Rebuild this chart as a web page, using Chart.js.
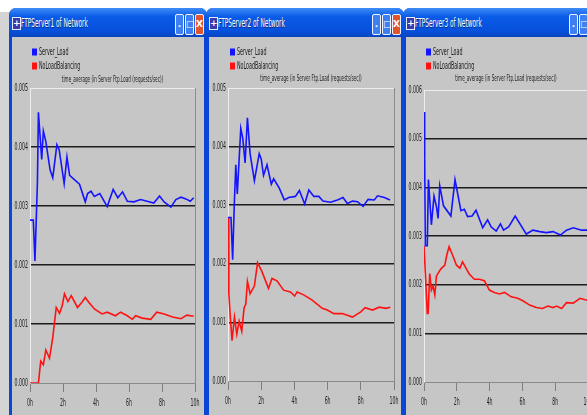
<!DOCTYPE html>
<html>
<head>
<meta charset="utf-8">
<script src="https://cdn.jsdelivr.net/npm/chart.js@4.4.1/dist/chart.umd.min.js"></script>
<style>
  body { margin: 0; width: 587px; height: 415px; overflow: hidden; position: relative; background: #d4d4d4; }
  .topstrip { position: absolute; left: 0; top: 0; width: 587px; height: 12px; background: #fff; }
  .win { position: absolute; top: 8px; height: 420px; background: #0b47d6; border-radius: 7px 7px 0 0; overflow: hidden; }
  .bar { position: absolute; left: 0; right: 0; top: 0; height: 29px; color: #fff;
         background: linear-gradient(#3f8cf6, #0a5be6 30%, #0650dc 80%, #0a44bf); }
  .ico { position: absolute; left: 3px; top: 9px; width: 7px; height: 11px; background: #3a3aa8; border: 1px solid #e8e8ff;
         font: bold 9px/11px "DejaVu Sans", sans-serif; text-align: center; color: #fff; }
  .ttl { position: absolute; left: 12px; top: 8px; font: 12px/14px "DejaVu Sans Condensed", "DejaVu Sans", sans-serif;
         transform: scaleX(0.54); transform-origin: 0 0;
         text-shadow: 1px 1px 0 #0a2a80; white-space: nowrap; }
  .btn { position: absolute; top: 6px; width: 7px; height: 19px; border: 1px solid #f0f4ff; border-radius: 2px; background: #3f7ff2;
         font: bold 9px/19px "DejaVu Sans", sans-serif; text-align: center; color: #fff; }
  .btn.x { background: #e0552c; }
  .body { position: absolute; left: 3px; right: 3px; top: 29px; bottom: 0; background: #c6c6c6; }
  canvas { display: block; }
</style>
</head>
<body>
<div class="topstrip"></div>

<div class="win" style="left:9px;width:198px">
  <div class="bar">
    <div class="ico">+</div><div class="ttl">FTPServer1 of Network</div>
    <div class="btn" style="right:23px">.</div><div class="btn" style="right:13px">□</div><div class="btn x" style="right:3px">X</div>
  </div>
  <div class="body"><canvas id="c1" width="192" height="378"></canvas></div>
</div>

<div class="win" style="left:206px;width:198px">
  <div class="bar">
    <div class="ico">+</div><div class="ttl">FTPServer2 of Network</div>
    <div class="btn" style="right:23px">.</div><div class="btn" style="right:13px">□</div><div class="btn x" style="right:3px">X</div>
  </div>
  <div class="body"><canvas id="c2" width="192" height="378"></canvas></div>
</div>

<div class="win" style="left:403px;width:207px">
  <div class="bar">
    <div class="ico">+</div><div class="ttl">FTPServer3 of Network</div>
    <div class="btn" style="right:32px">.</div><div class="btn" style="right:22px">□</div><div class="btn x" style="right:12px">X</div>
  </div>
  <div class="body"><canvas id="c3" width="201" height="378"></canvas></div>
</div>

<script>
const FONT = '"DejaVu Sans Condensed", "DejaVu Sans", sans-serif';
const seriesNames = ['Server_Load', 'NoLoadBalancing'];
const titleText = 'time_average (in Server Ftp.Load (requests/sec))';
const xTicks = [0, 2, 4, 6, 8, 10];

// FTPServer1 (hours / requests per sec)
const s1LoadT = [0, 0.2, 0.3, 0.45, 0.51, 0.71, 0.81, 0.96, 1.22, 1.38, 1.63, 1.77, 2.07, 2.24, 2.4, 3.0, 3.35, 3.49, 3.7, 3.9, 4.23, 4.68, 5.04, 5.32, 5.61, 5.9, 6.3, 6.7, 7.1, 7.5, 7.85, 8.13, 8.54, 8.84, 9.15, 9.45, 9.71, 9.92];
const s1LoadV = [0.00276, 0.00276, 0.00207, 0.0034, 0.00459, 0.00379, 0.00427, 0.00409, 0.00361, 0.00348, 0.00404, 0.00395, 0.00338, 0.00383, 0.00352, 0.00337, 0.00307, 0.00321, 0.00325, 0.00316, 0.00321, 0.00299, 0.00328, 0.00314, 0.00324, 0.00308, 0.00307, 0.00311, 0.00308, 0.00305, 0.00317, 0.00307, 0.00298, 0.00311, 0.00315, 0.00312, 0.00308, 0.00314];
const s1NoLbT = [0, 0.51, 0.65, 0.81, 0.96, 1.18, 1.38, 1.59, 1.79, 1.95, 2.09, 2.3, 2.5, 2.88, 3.15, 3.35, 3.56, 3.92, 4.37, 4.68, 5.18, 5.49, 5.9, 6.2, 6.4, 6.8, 7.32, 7.68, 8.13, 8.64, 9.15, 9.51, 9.92];
const s1NoLbV = [0, 0, 0.00037, 0.00031, 0.00056, 0.00042, 0.00077, 0.00128, 0.00118, 0.00131, 0.00151, 0.00138, 0.00148, 0.00128, 0.00137, 0.00145, 0.00137, 0.00125, 0.00117, 0.0012, 0.00114, 0.0012, 0.00114, 0.00108, 0.00114, 0.0011, 0.00108, 0.0012, 0.00117, 0.00112, 0.00109, 0.00115, 0.00113];

// FTPServer2
const s2LoadT = [0, 0.18, 0.28, 0.38, 0.47, 0.56, 0.77, 0.89, 1.03, 1.17, 1.33, 1.59, 1.88, 2.0, 2.14, 2.35, 2.61, 2.75, 3.09, 3.39, 3.66, 4.06, 4.3, 4.62, 4.87, 5.17, 5.47, 5.72, 6.18, 6.59, 6.93, 7.19, 7.5, 7.8, 8.14, 8.44, 8.81, 9.01, 9.42, 9.76];
const s2LoadV = [0.00279, 0.00279, 0.00207, 0.00302, 0.00369, 0.00319, 0.00431, 0.00414, 0.00372, 0.00449, 0.00388, 0.00342, 0.00388, 0.00379, 0.00351, 0.00369, 0.00336, 0.00345, 0.00329, 0.00309, 0.00313, 0.00315, 0.00325, 0.00302, 0.00326, 0.00315, 0.00315, 0.00307, 0.00305, 0.00309, 0.00313, 0.00303, 0.00307, 0.00306, 0.00298, 0.0031, 0.00309, 0.00316, 0.00313, 0.00309];
const s2NoLbT = [0, 0.05, 0.14, 0.24, 0.39, 0.53, 0.67, 0.83, 0.97, 1.07, 1.17, 1.33, 1.59, 1.78, 2.04, 2.44, 2.65, 2.95, 3.35, 3.76, 4.02, 4.16, 4.56, 5.07, 5.68, 5.98, 6.38, 6.89, 7.5, 8.0, 8.26, 8.71, 9.11, 9.52, 9.78];
const s2NoLbV = [0.00279, 0.0015, 0.00109, 0.00069, 0.00109, 0.0008, 0.00102, 0.00085, 0.00125, 0.00131, 0.0017, 0.00149, 0.00162, 0.00202, 0.00187, 0.00158, 0.00175, 0.00171, 0.00155, 0.00152, 0.00145, 0.00152, 0.00147, 0.00138, 0.00124, 0.00121, 0.00115, 0.00115, 0.00109, 0.00118, 0.00125, 0.00121, 0.00126, 0.00124, 0.00126];

// FTPServer3
const s3LoadT = [0, 0.04, 0.08, 0.2, 0.27, 0.45, 0.61, 0.76, 0.86, 0.96, 1.19, 1.64, 1.89, 2.25, 2.46, 2.66, 2.93, 3.17, 3.58, 3.88, 4.09, 4.4, 4.66, 4.85, 5.17, 5.56, 6.24, 6.64, 7.06, 7.46, 7.87, 8.32, 8.69, 9.1, 9.61, 10];
const s3LoadV = [0.00555, 0.0046, 0.0028, 0.0028, 0.00416, 0.00323, 0.00382, 0.0036, 0.00336, 0.00403, 0.00362, 0.00341, 0.00416, 0.00352, 0.00355, 0.0034, 0.00341, 0.00353, 0.00317, 0.00333, 0.00319, 0.0031, 0.00325, 0.00312, 0.00319, 0.00341, 0.00304, 0.00312, 0.00309, 0.00307, 0.00309, 0.00302, 0.00312, 0.00317, 0.00312, 0.00312];
const s3NoLbT = [0, 0.06, 0.2, 0.25, 0.35, 0.45, 0.55, 0.66, 0.76, 1.02, 1.27, 1.39, 1.53, 1.74, 1.98, 2.19, 2.35, 2.56, 2.76, 3.07, 3.37, 3.68, 3.99, 4.29, 4.6, 4.91, 5.32, 5.72, 6.03, 6.44, 6.85, 7.22, 7.56, 7.87, 8.08, 8.39, 8.69, 9.1, 9.51, 9.82, 10];
const s3NoLbV = [0.0028, 0.0028, 0.00141, 0.00141, 0.00223, 0.00189, 0.00197, 0.00179, 0.00218, 0.00232, 0.0024, 0.00261, 0.00278, 0.00261, 0.0024, 0.00234, 0.00247, 0.00234, 0.00222, 0.00211, 0.00211, 0.00208, 0.00189, 0.00184, 0.00181, 0.00184, 0.00175, 0.00172, 0.00167, 0.00158, 0.00153, 0.00151, 0.00156, 0.00153, 0.00156, 0.00151, 0.00163, 0.00162, 0.00172, 0.00169, 0.00168];

const toPoints = (t, v) => t.map((x, i) => ({ x: x, y: v[i] }));

// draw text squeezed horizontally (the screenshot's fonts are very narrow)
function narrowText(ctx, text, x, y, align, sx) {
  ctx.save();
  ctx.translate(x, y);
  ctx.scale(sx, 1);
  ctx.textAlign = align;
  ctx.fillText(text, 0, 0);
  ctx.restore();
}

// plot frame: light top edge, grey right edge (OPNET style)
const framePlugin = {
  id: 'frame',
  beforeDatasetsDraw(chart) {
    const { ctx, chartArea: a } = chart;
    ctx.save();
    ctx.lineWidth = 1;
    ctx.strokeStyle = '#ededed';
    ctx.beginPath(); ctx.moveTo(a.left, a.top + 0.5); ctx.lineTo(a.right, a.top + 0.5); ctx.stroke();
    ctx.strokeStyle = '#8c8c8c';
    ctx.beginPath(); ctx.moveTo(a.right + 0.5, a.top); ctx.lineTo(a.right + 0.5, a.bottom); ctx.stroke();
    ctx.restore();
  }
};

// square legend, stat title and condensed tick labels
const opnetText = {
  id: 'opnetText',
  afterDraw(chart, args, opts) {
    const { ctx, chartArea: a, scales } = chart;
    ctx.save();
    ctx.textBaseline = 'middle';
    ctx.font = '10px ' + FONT;
    chart.data.datasets.forEach((ds, i) => {
      const y = 15 + i * 14;
      ctx.fillStyle = ds.borderColor;
      ctx.fillRect(a.left + 2, y - 3.5, 5, 7);
      ctx.fillStyle = '#1a1a1a';
      narrowText(ctx, ds.label, a.left + 9, y, 'left', 0.53);
    });
    ctx.font = '9px ' + FONT;
    ctx.fillStyle = '#222';
    narrowText(ctx, titleText, (a.left + a.right) / 2, opts.titleY, 'center', 0.51);

    ctx.font = '10px ' + FONT;
    scales.y.ticks.forEach(t => {
      narrowText(ctx, t.value.toFixed(3), a.left - 2, scales.y.getPixelForValue(t.value), 'right', 0.52);
    });
    scales.x.ticks.forEach(t => {
      narrowText(ctx, t.value + 'h', scales.x.getPixelForValue(t.value), a.bottom + 20, 'center', 0.52);
    });
    ctx.restore();
  }
};

function makeChart(id, load, noLb, yMax, pad, titleY) {
  const ctx = document.getElementById(id).getContext('2d');
  return new Chart(ctx, {
    type: 'line',
    data: {
      datasets: [
        { label: seriesNames[0], data: load, borderColor: '#1414ff', borderWidth: 1.6, pointRadius: 0, tension: 0 },
        { label: seriesNames[1], data: noLb, borderColor: '#ff1212', borderWidth: 1.6, pointRadius: 0, tension: 0 }
      ]
    },
    options: {
      responsive: false,
      animation: false,
      layout: { padding: pad },
      plugins: {
        legend: { display: false },
        tooltip: { enabled: false },
        opnetText: { titleY: titleY }
      },
      scales: {
        x: {
          type: 'linear',
          min: 0,
          max: 10,
          afterFit: s => { s.height = 24; },
          afterBuildTicks: s => { s.ticks = xTicks.map(v => ({ value: v })); },
          grid: { drawOnChartArea: false, drawTicks: true, tickLength: 9, color: '#7e7e7e' },
          border: { display: true, color: '#8a8a8a', width: 1 },
          ticks: { display: false }
        },
        y: {
          min: 0,
          max: yMax,
          afterFit: s => { s.width = 17; },
          grid: {
            drawTicks: false,
            lineWidth: 1.5,
            color: c => (c.tick.value > 1e-7 && c.tick.value < yMax - 1e-7) ? '#1c1c1c' : 'rgba(0,0,0,0)'
          },
          border: { display: true, color: '#eeeeee', width: 1 },
          ticks: { display: false, stepSize: 0.001 }
        }
      }
    },
    plugins: [framePlugin, opnetText]
  });
}

// canvases start at page y=37
makeChart('c1', toPoints(s1LoadT, s1LoadV), toPoints(s1NoLbT, s1NoLbV), 0.005, { left: 1, right: 9, top: 51, bottom: 8 }, 43);
makeChart('c2', toPoints(s2LoadT, s2LoadV), toPoints(s2NoLbT, s2NoLbV), 0.005, { left: 2, right: 7, top: 51, bottom: 10 }, 42);
makeChart('c3', toPoints(s3LoadT, s3LoadV), toPoints(s3NoLbT, s3NoLbV), 0.006, { left: 1, right: 19, top: 53, bottom: 9 }, 42);
</script>
</body>
</html>
